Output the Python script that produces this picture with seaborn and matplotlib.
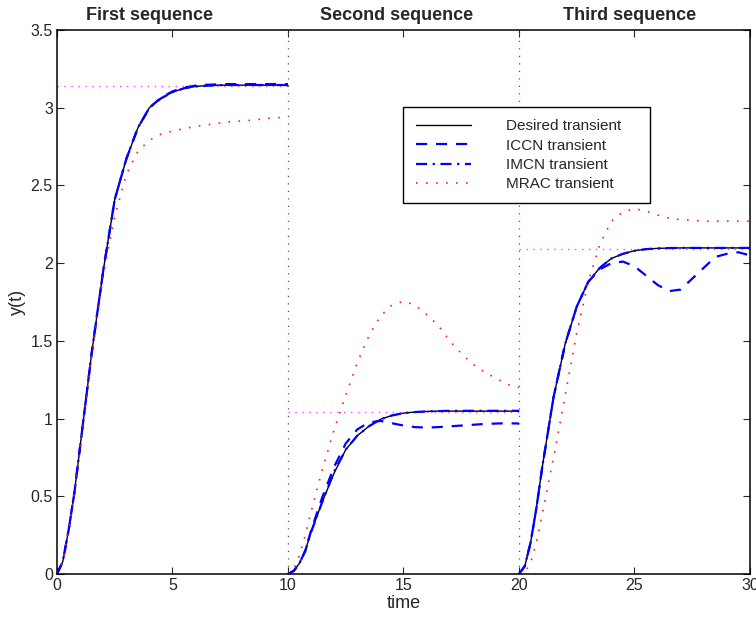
import numpy as np
import pandas as pd
import seaborn as sns
import matplotlib.pyplot as plt

# time offsets inside each 10 s sequence
t_offset = [0, 0.25, 0.5, 0.75, 1, 1.5, 2, 2.5, 3, 3.5, 4, 4.5, 5, 5.5, 6, 6.5, 7, 7.5, 8, 8.5, 9, 9.5, 10]

seq_start = [0, 10, 20]
seq_titles = ['First sequence', 'Second sequence', 'Third sequence']
setpoint = [3.14, 1.04, 2.09]

desired = [
    [0, 0.08, 0.28, 0.52, 0.82, 1.42, 1.95, 2.41, 2.67, 2.87, 3.0, 3.06, 3.10, 3.125, 3.137, 3.142, 3.145, 3.145, 3.145, 3.145, 3.145, 3.145, 3.145],
    [0, 0.02, 0.07, 0.15, 0.27, 0.47, 0.65, 0.80, 0.89, 0.95, 0.995, 1.02, 1.035, 1.042, 1.046, 1.048, 1.048, 1.048, 1.048, 1.048, 1.048, 1.048, 1.048],
    [0, 0.05, 0.20, 0.42, 0.68, 1.14, 1.48, 1.72, 1.88, 1.97, 2.03, 2.06, 2.08, 2.09, 2.095, 2.097, 2.098, 2.098, 2.098, 2.098, 2.098, 2.098, 2.098],
]
iccn = [
    [0, 0.08, 0.28, 0.52, 0.82, 1.42, 1.95, 2.41, 2.67, 2.87, 3.0, 3.065, 3.105, 3.13, 3.142, 3.148, 3.15, 3.152, 3.152, 3.152, 3.152, 3.152, 3.152],
    [0, 0.02, 0.07, 0.15, 0.28, 0.50, 0.69, 0.84, 0.93, 0.975, 0.985, 0.97, 0.955, 0.945, 0.942, 0.945, 0.95, 0.955, 0.96, 0.965, 0.968, 0.97, 0.968],
    [0, 0.05, 0.20, 0.42, 0.68, 1.14, 1.48, 1.72, 1.88, 1.96, 2.0, 2.01, 1.98, 1.92, 1.86, 1.82, 1.83, 1.90, 1.97, 2.04, 2.06, 2.07, 2.05],
]
imcn = [
    [0, 0.08, 0.28, 0.52, 0.82, 1.42, 1.95, 2.41, 2.67, 2.87, 3.0, 3.06, 3.10, 3.125, 3.137, 3.142, 3.145, 3.146, 3.146, 3.146, 3.146, 3.146, 3.146],
    [0, 0.02, 0.07, 0.15, 0.27, 0.47, 0.66, 0.80, 0.89, 0.95, 0.995, 1.02, 1.035, 1.042, 1.046, 1.048, 1.05, 1.05, 1.05, 1.05, 1.05, 1.05, 1.05],
    [0, 0.05, 0.20, 0.42, 0.68, 1.14, 1.48, 1.72, 1.88, 1.97, 2.03, 2.06, 2.08, 2.09, 2.095, 2.097, 2.098, 2.098, 2.098, 2.098, 2.098, 2.098, 2.098],
]
mrac = [
    [0, 0.08, 0.28, 0.52, 0.82, 1.40, 1.92, 2.30, 2.57, 2.72, 2.79, 2.83, 2.85, 2.865, 2.88, 2.89, 2.90, 2.91, 2.915, 2.92, 2.93, 2.935, 2.94],
    [0, 0.03, 0.12, 0.25, 0.40, 0.68, 0.93, 1.15, 1.36, 1.53, 1.66, 1.73, 1.755, 1.73, 1.67, 1.60, 1.50, 1.42, 1.35, 1.30, 1.26, 1.22, 1.20],
    [0, 0.01, 0.07, 0.20, 0.38, 0.75, 1.15, 1.55, 1.88, 2.12, 2.27, 2.33, 2.35, 2.335, 2.31, 2.29, 2.28, 2.275, 2.27, 2.27, 2.27, 2.27, 2.27],
]

series = [
    ('Desired transient', desired, dict(color='black', linestyle='-', linewidth=1.0)),
    ('ICCN transient', iccn, dict(color='#0000ff', linestyle=(0, (5, 4)), linewidth=1.6)),
    ('IMCN transient', imcn, dict(color='#0000ff', linestyle=(0, (5, 2.5, 1, 2.5)), linewidth=1.6)),
    ('MRAC transient', mrac, dict(color='#ff2020', linestyle=(0, (1, 5)), linewidth=1.2)),
]

sns.set_style('ticks')
plt.rcParams['font.family'] = ['Liberation Sans', 'DejaVu Sans']

fig, ax = plt.subplots(figsize=(7.56, 6.2), dpi=100)
fig.subplots_adjust(left=0.0754, right=0.992, bottom=0.0742, top=0.9516)

handles = []
for i, start in enumerate(seq_start):
    t = start + np.array(t_offset)
    # setpoint reference for this sequence
    ax.hlines(setpoint[i], start, start + 10, colors='#ff44ff', linestyles=(0, (1, 4)), linewidth=1.0, zorder=1)
    if start > 0:
        ax.axvline(start, color='#555555', linestyle=(0, (1, 5)), linewidth=0.9, zorder=1)
    for name, vals, kw in series:
        df = pd.DataFrame({'t': t, 'y': vals[i]})
        sns.lineplot(data=df, x='t', y='y', ax=ax, estimator=None, sort=False, legend=False, **kw)
        if i == 0:
            handles.append(ax.lines[-1])

for x_c, title in zip([4.0, 14.7, 24.8], seq_titles):
    ax.text(x_c, 1.027, title, transform=ax.get_xaxis_transform(), ha='center', va='center',
            fontsize=13, fontweight='bold')

ax.set_xlim(0, 30)
ax.set_ylim(0, 3.5)
ax.set_xticks([0, 5, 10, 15, 20, 25, 30])
ax.set_xticklabels(['0', '5', '10', '15', '20', '25', '30'])
ax.set_yticks([0, 0.5, 1, 1.5, 2, 2.5, 3, 3.5])
ax.set_yticklabels(['0', '0.5', '1', '1.5', '2', '2.5', '3', '3.5'])
ax.tick_params(direction='in', top=True, right=True, length=5, labelsize=11.5, width=0.8, pad=3)
for sp in ax.spines.values():
    sp.set_visible(True)
    sp.set_linewidth(1.1)
    sp.set_color('black')
ax.set_xlabel('time', fontsize=13, labelpad=1)
ax.set_ylabel('y(t)', fontsize=13, labelpad=3)

leg = ax.legend(handles, [s[0] for s in series], loc='upper left',
                bbox_to_anchor=(0.5, 0.6875, 0.356, 0.1705), mode='expand',
                fontsize=11, frameon=True, fancybox=False, edgecolor='black', framealpha=1,
                handlelength=3.6, handletextpad=2.3, borderpad=0.8, labelspacing=0.34, borderaxespad=0)
leg.get_frame().set_linewidth(1.0)

plt.savefig('out.png', dpi=100)
